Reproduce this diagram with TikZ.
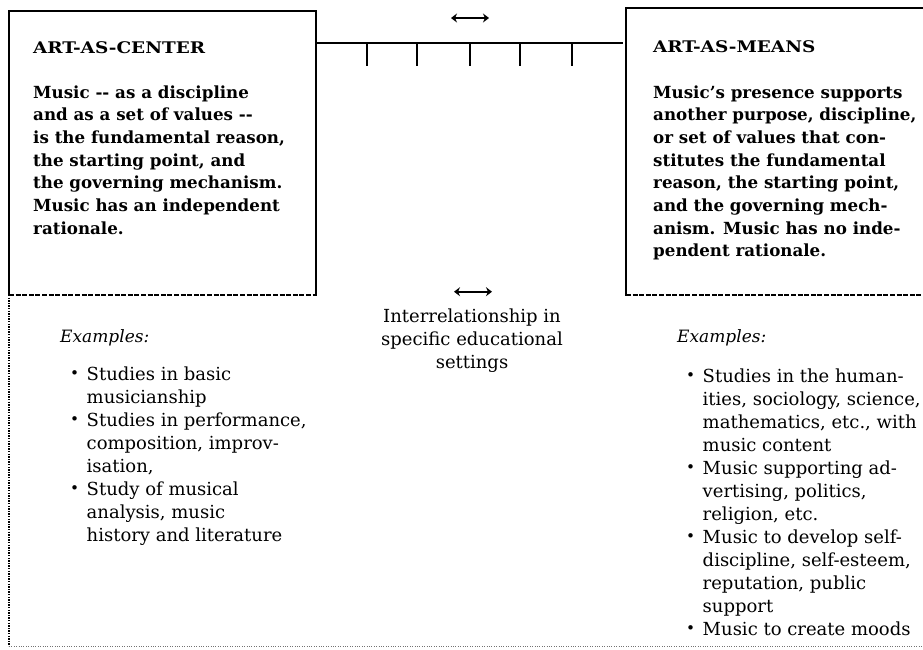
\documentclass[tikz,border=0pt]{standalone}
\usepackage{fontspec}
\setmainfont{DejaVu Serif}
\newfontfamily\headfont[FakeStretch=1.15]{DejaVu Serif}
\usetikzlibrary{arrows.meta,calc}
\newcommand\smallbullet{\raisebox{0.2ex}{\scalebox{0.85}{•}}}
\begin{document}
\begin{tikzpicture}[x=1pt,y=-1pt,
  frame/.style={inner sep=0pt, outer sep=0pt},
  edge/.style={line width=2.4pt, line cap=rect},
  dashedge/.style={line width=2.2pt, dash pattern=on 5pt off 1.6pt},
  dotedge/.style={line width=2.2pt, dash pattern=on 1.3pt off 1.3pt},
  faintdot/.style={line width=0.8pt, black!55, dash pattern=on 1pt off 1.4pt},
  tickmark/.style={line width=1.9pt},
  twoway/.style={line width=2.4pt, {Stealth[length=6pt,width=9pt]}-{Stealth[length=6pt,width=9pt]}},
  heading/.style={inner sep=0pt, anchor=base west, font=\fontsize{16}{18}\selectfont\headfont\bfseries},
  bodytext/.style={inner sep=0pt, anchor=base west, font=\fontsize{16.7}{22.7}\selectfont\bfseries},
  examplelabel/.style={inner sep=0pt, anchor=base west, font=\fontsize{17}{20}\selectfont\itshape},
  listtext/.style={inner sep=0pt, anchor=base west, font=\fontsize{18}{23}\selectfont},
  centretext/.style={inner sep=0pt, anchor=base, font=\fontsize{18}{23}\selectfont}]
\useasboundingbox (0,0) rectangle (923,649);

% the two boxes
\node[frame, minimum width=307pt, minimum height=284pt, anchor=north west] (centre) at (9,11) {};
\node[frame, minimum width=297pt, minimum height=287pt, anchor=north west] (means) at (626,8) {};

\draw[edge] (centre.south west) -- (centre.north west) -- (centre.north east) -- (centre.south east);
\draw[dashedge] (centre.south west) -- (centre.south east);
\draw[edge] (means.south west) -- (means.north west) -- (means.north east);
\draw[dashedge] (means.south west) -- (means.south east);

% continuum between the boxes
\coordinate (linkL) at ($(centre.north east)+(2,32)$);
\coordinate (linkR) at ($(means.west |- linkL)+(-4,0)$);
\draw[edge] (linkL) -- (linkR);
\foreach \f in {0.16,0.325,0.5,0.665,0.835}
  \draw[tickmark] ($(linkL)!\f!(linkR)$) -- ++(0,23);
\coordinate (topmid) at ($(linkL)!0.5!(linkR)+(0,-25)$);
\draw[twoway] ($(topmid)+(-19,0)$) -- ($(topmid)+(19,0)$);

% outer dotted frame
\coordinate (corner) at ($(centre.south west)+(0,351)$);
\draw[dotedge] (centre.south west) -- (corner);
\draw[faintdot] (corner) -- (923,646);

% box texts
\node[heading] (ctitle) at (33,53) {ART-AS-CENTER};
\node[bodytext] (cbody) at (33,98) {\begin{tabular}[t]{@{}l@{}}
Music -{}- as a discipline\\and as a set of values -{}-\\is the fundamental reason,\\the starting point, and\\the governing mechanism.\\Music has an independent\\rationale.
\end{tabular}};

\node[heading] (mtitle) at (653,52) {ART-AS-MEANS};
\node[bodytext] (mbody) at (653,98) {\begin{tabular}[t]{@{}l@{}}
Music’s presence supports\\another purpose, discipline,\\or set of values that con-\\stitutes the fundamental\\reason, the starting point,\\and the governing mech-\\anism. Music has no inde-\\pendent rationale.
\end{tabular}};

% centre label
\node[centretext] (inter) at (472,322) {\begin{tabular}[t]{@{}c@{}}
Interrelationship in\\specific educational\\settings
\end{tabular}};
\coordinate (midarrow) at ($(inter.north)+(1,-14)$);
\draw[twoway] ($(midarrow)+(-19,0)$) -- ($(midarrow)+(19,0)$);

% examples
\node[examplelabel] (cex) at (60,342) {Examples:};
\node[listtext] (clist) at (70,380) {\begin{tabular}[t]{@{}l@{\hspace{7.5pt}}l@{}}
\smallbullet & Studies in basic\\
 & musicianship\\
\smallbullet & Studies in performance,\\
 & composition, improv-\\
 & isation,\\
\smallbullet & Study of musical\\
 & analysis, music\\
 & history and literature
\end{tabular}};

\node[examplelabel] (mex) at (677,342) {Examples:};
\node[listtext] (mlist) at (686,382) {\begin{tabular}[t]{@{}l@{\hspace{7.5pt}}l@{}}
\smallbullet & Studies in the human-\\
 & ities, sociology, science,\\
 & mathematics, etc., with\\
 & music content\\
\smallbullet & Music supporting ad-\\
 & vertising, politics,\\
 & religion, etc.\\
\smallbullet & Music to develop self-\\
 & discipline, self-esteem,\\
 & reputation, public\\
 & support\\
\smallbullet & Music to create moods
\end{tabular}};
\end{tikzpicture}
\end{document}
